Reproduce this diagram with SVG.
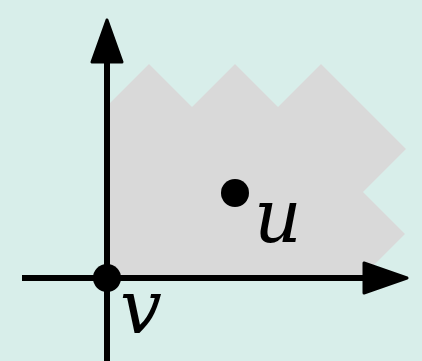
<svg xmlns="http://www.w3.org/2000/svg" width="422" height="361" viewBox="0 0 422 361">
<style>
.axis{stroke:#000;stroke-width:6;fill:none}
.head{fill:#000;stroke:#000;stroke-width:3;stroke-linejoin:round}
.dot{fill:#000}
.lbl{font-family:"DejaVu Serif","Liberation Serif",serif;font-style:italic;font-size:74px;fill:#000}
</style>
<rect width="422" height="361" fill="#d8eeea"/>
<g id="region">
<polygon fill="#d9d9d9" points="107,278 107,106 149,64 192,107 235,64 278,107 321,64 406,149 363,192 405,234 361,278"/>
</g>
<g id="connectors">
<line class="axis" x1="107" y1="361" x2="107" y2="60"/>
<polygon class="head" points="107,20 92,62 122,62"/>
<line class="axis" x1="22" y1="278" x2="367" y2="278"/>
<polygon class="head" points="407,278 364,263 364,293"/>
</g>
<g id="u">
<circle class="dot" cx="235" cy="193" r="14"/>
<text class="lbl" x="254" y="242">u</text>
</g>
<g id="v">
<circle class="dot" cx="107" cy="278" r="14"/>
<text class="lbl" x="120" y="333">v</text>
</g>
</svg>
